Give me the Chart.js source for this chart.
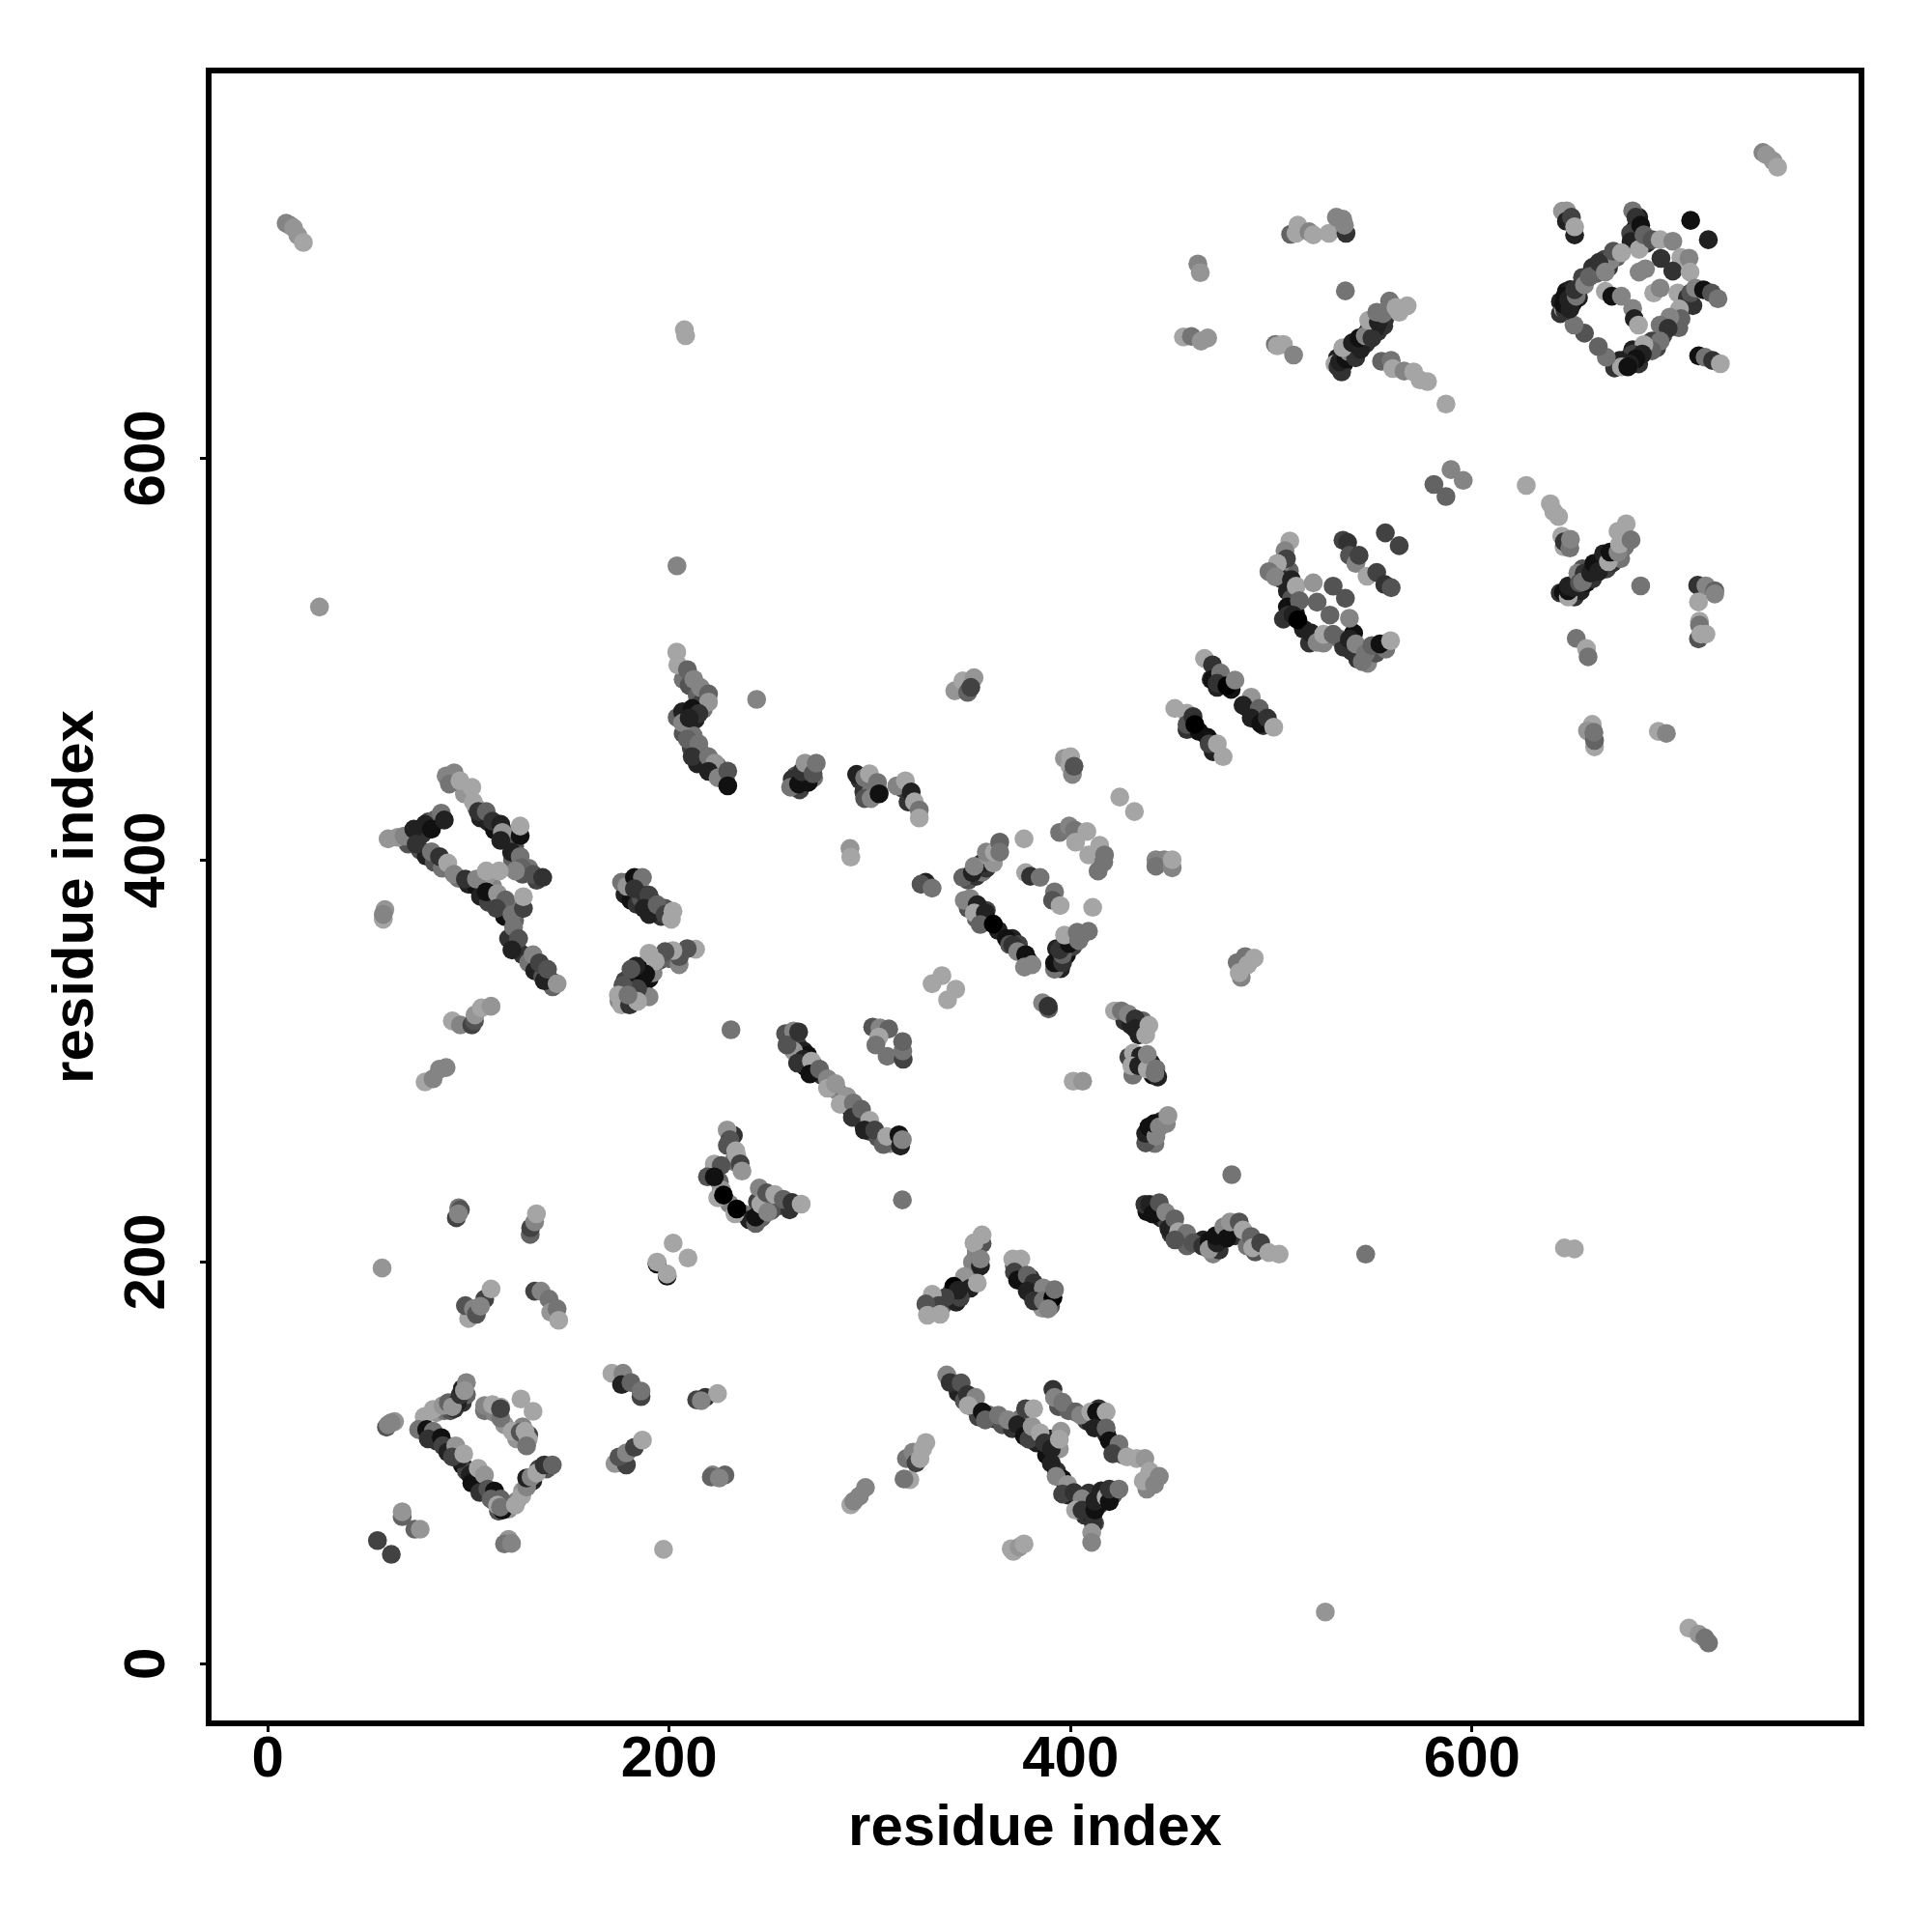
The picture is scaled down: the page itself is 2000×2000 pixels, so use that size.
<!DOCTYPE html>
<html>
<head>
<meta charset="utf-8">
<title>residue contact map</title>
<script src="https://cdn.jsdelivr.net/npm/chart.js@4/dist/chart.umd.min.js"></script>
<style>
  html, body { margin: 0; padding: 0; background: #fff; }
  canvas { display: block; }
</style>
</head>
<body>
<canvas id="chart" width="2000" height="2000"></canvas>
<script>
// eixos
const xTicks = [0, 200, 400, 600];
const yTicks = [0, 200, 400, 600];
const xTitle = 'residue index';
const yTitle = 'residue index';

// contatos que ficam por baixo nas cadeias densas: [residuo x, residuo y, nivel 0-10]
const contactsUnderLeft = [
  [77,118,5],[81,114,2],[84,111,3],[88,109,1],[91,106,3],[94,103,5],[97,99,1],[99,96,4],[103,92,2],[106,90,3],[108,87,2],[111,84,1],[113,81,2],[115,76,5],[118,79,3],
  [84,125,9],[88,126,7],[91,126,5],[93,127,3],[95,132,4],[97,130,3],[99,134,6],[120,77,9],[124,81,8],[127,86,9],[130,90,6],[132,91,2],[135,97,4],[139,97,5],
  [108,126,7],[113,125,8],[118,119,9],[124,112,9],[127,118,8],[130,114,4],
  [98,433,9],[104,426,8],[106,421,2],[110,419,2],[113,415,1],[118,414,6],[120,410,3],[123,407,5],[122,400,6],[127,393,5],[130,396,7],[134,390,4],
  [70,408,5],[72,412,2],[75,411,1],[77,413,3],[80,419,4],[83,420,6],[76,405,5],[79,402,2],[83,399,5],[87,396,7],[95,391,7],[100,388,2],[104,387,1],[106,382,2],[110,379,4],[112,387,8],
  [118,372,1],[120,378,8],[123,370,6],[120,361,3],[124,357,6],[127,353,3],[130,349,7],[133,345,2],[137,342,5],[141,340,3],[142,337,6],[109,392,9],
  [178,383,2],[181,380,1],[184,378,3],[186,381,5],[188,383,3],[191,380,4],[193,375,1],[196,372,3],[198,376,5],[179,389,5],[184,388,2],[190,373,2],
  [178,340,4],[181,337,2],[179,334,6],[182,331,5],[175,330,8],[187,337,0],[185,340,1],[190,341,1],[192,344,8],[195,350,5],[188,348,3],[200,351,6],[205,348,8],[190,332,8],[183,345,2],[186,345,0],
  [207,490,7],[210,487,5],[214,482,6],[216,478,4],[204,471,6],[208,466,3],[213,470,2],[217,475,7],[207,463,5],[211,456,4],[216,453,6],[214,448,2],[221,445,3],[226,441,1],[224,447,6],[228,440,3],[212,462,7],
  [263,442,5],[266,441,2],[268,443,3],[272,441,7],[265,435,4],[295,440,3],[299,437,4],[297,434,3],[301,436,6],[300,433,7],[316,436,4],[319,429,3]
];
const contactsUnderMid = [
  [349,390,5],[353,392,3],[356,394,7],[358,396,3],[360,400,3],[363,405,8],[349,376,5],[353,371,6],[356,370,3],[358,375,4],[364,365,2],[371,361,2],[374,358,4],[379,350,3],
  [393,350,5],[395,346,2],[398,353,1],[401,357,4],[400,361,3],[405,362,5],[393,356,2],[440,263,3],[443,266,2],[445,270,3],[438,261,8],[442,259,7],
  [261,311,3],[264,308,4],[267,305,2],[269,303,1],[272,298,2],[276,293,3],[280,289,5],[284,285,8],[287,280,6],[290,277,3],[294,272,1],[297,268,2],[300,265,3],[304,262,5],[310,259,8],[312,262,2],[260,308,4],[262,305,9],[268,297,1],
  [222,245,3],[229,258,5],[232,250,7],[225,240,6],[226,236,9],[230,229,8],[237,224,7],[240,221,2],[246,222,6],[244,230,4],[247,232,2],[251,230,5],[255,228,4],[260,226,3],[232,263,3],
  [330,176,5],[333,181,3],[336,178,6],[340,184,4],[343,180,2],[346,188,4],[352,195,6],[353,203,3],[353,206,8],[348,190,3],
  [372,198,5],[375,193,4],[377,190,2],[380,192,3],[383,186,1],[385,184,2],[388,182,6],[390,178,5],[386,177,9],
  [341,140,5],[344,135,2],[347,131,5],[351,128,2],[354,123,4],[359,124,6],[362,122,3],[366,119,5],[371,117,3],[375,118,6],[375,122,7],[380,113,1],[383,110,2],[388,104,1],[390,112,2],
  [393,96,3],[396,92,1],[399,84,2],[404,79,1],[407,74,3],[408,80,2],[411,73,1],[414,79,3],[416,81,1],[421,84,5],[414,84,4],[409,85,3],[412,70,5],
  [394,128,5],[399,126,6],[408,121,4],[410,120,2],[415,120,3],[418,114,2],[422,107,4],[426,104,5],[414,127,3],[438,87,8],[440,92,5],
  [438,225,1],[442,227,3],[445,222,2],[448,220,4],[450,214,3],[455,212,5],[458,208,6],[466,211,2],[468,207,2],[471,204,8],[474,210,1],[475,213,1],[474,206,3],[480,215,1],[482,213,3],[488,208,7],[492,205,5],
  [427,320,3],[430,318,2],[434,313,2],[436,320,6],[429,302,4],[433,301,1],[437,299,3],[441,293,1],[440,299,2],[431,293,7]
];
const contactsUnderRight = [
  [470,490,3],[473,486,2],[476,490,2],[480,485,1],[488,476,1],[491,473,2],[493,470,1],[496,467,3],[458,465,3],[464,464,1],[471,454,2],
  [509,544,6],[505,548,8],[505,540,3],[508,534,2],[510,530,5],[508,526,1],[512,523,1],[506,520,3],[516,515,2],[519,508,3],[524,510,5],[526,508,8],[534,510,7],[536,506,3],[540,504,3],[543,500,3],[548,498,8],[552,503,5],[557,505,7],[541,513,1],
  [533,650,2],[536,647,1],[539,650,1],[541,653,2],[543,655,1],[545,658,2],[547,657,3],[548,663,2],[551,664,1],[553,663,3],[556,666,3],[549,668,3],[552,665,2],[535,643,3],
  [644,678,2],[647,683,1],[649,684,2],[653,680,2],[650,677,1],[655,690,4],[660,695,3],[662,692,6],[666,699,4],[668,695,3],[672,700,6],[644,672,3],
  [671,645,3],[675,648,1],[678,650,2],[680,654,2],[683,647,3],[686,655,3],[692,655,4],[695,661,4],[699,667,7],[703,665,6],[683,720,2],[681,714,1],[687,707,3],[706,680,2],[710,676,3],
  [649,532,2],[651,531,3],[654,534,2],[657,538,1],[660,540,3],[662,545,1],[664,548,2],[667,545,4],[670,548,3],[674,550,7],[676,556,7],[655,545,5]
];

// contatos: [residuo x, residuo y, nivel 0-10]
const contactsFarCorners = [
  [9.2,717,8],[11,716,8],[12.9,714.7,9],[15,711,9],[17.8,707.4,10],[25.8,526,9],[203.9,546.5,8],[207.6,664,10],[208.2,661,10],
  [744.9,752.2,8],[746.7,751,9],[750,748,9],[752.2,744.9,10],[708,17.8,10],[713,14.7,9],[716,12.9,7],[717.8,10.4,7],[526.9,25.8,9],
  [547,203.9,7],[646,207,10],[651,206.5,10],[627,586.5,10],[587,627,10],[581,587,6],[587,581,6],[589.5,594.4,8],[595.6,589,8]
];
const contactsLowerLeft = [
  [57,197,9],[54.7,61.4,4],[61.6,54.5,4],[67,73.3,6],[67,75.7,9],[73.3,67,6],[76,67,9],
  [59.2,117.8,5],[60,119,8],[63.2,120.6,9],[61.5,120,8],[78,123,10],[82.4,126.6,10],[87.3,128.6,9],[90,130,6],[94.5,130,2],[92,128,9],[96,134,3],[97,137,2],[99,140,8],[98,136,9],
  [75.2,116.6,7],[79.2,116.6,1],[82.5,115.8,7],[80,112,3],[86.5,112.6,1],[87.3,108.6,4],[89.7,105.4,2],[93.7,108.5,9],[95,102,2],[92,103,4],[97.7,104.5,10],
  [100.9,94,2],[101.7,90,1],[104.9,97.3,10],[108,94,9],[105.7,85.3,3],[109.7,87,5],[113,86,1],[111.3,82,6],[116.1,82,6],[114.5,79,10],[117,76.5,1],[116,78,7],
  [123.4,79,10],[126.6,83.7,10],[129,88,8],[129,92.5,2],[131.2,93,8],[134,95,10],[137.8,99,3],[141.8,99,6],
  [108.1,128.6,8],[112,129,10],[116.1,127.8,10],[116.1,122.3,7],[116,127,4],[126.2,131.8,10],[132.2,125.7,10],[121.8,115.8,10],[125.8,115.3,5],[128.2,115.8,10],[129.8,111.8,10],[129,108.5,7],
  [120,62,9],[118,59.7,7],[121.5,60,8],
  [100.1,171.9,10],[98.5,178.3,5],[102.5,176.7,8],[104,174,5],[108.1,181.5,4],[106,178,8],[111.3,186.6,10],
  [133,185.5,4],[136.2,185.5,8],[140.2,181.5,7],[141,175,9],[144.2,176.7,7],[145,171,10],
  [95.2,227,7],[96,226,5],[94,222,4],[95,224,8],[130.8,213.7,6],[131,217,4],[133,220,8],[133.9,224,10],
  [171.5,144.6,10],[177,144.6,8],[176.3,139,2],[181,140,6],[186,133,4],[186,135.8,7],
  [173,99.7,9],[178.7,99,4],[175,103,5],[178.7,105,8],[182.7,107.8,4],[186.7,111.4,10],
  [194,199,1],[194,200,10],[199,193,1],[199,194,10],[202,209.4,10],[209.4,202,10],[197.2,57,10],
  [213.7,131.4,4],[218,132.6,3],[224.1,134.5,10],[216,131,8],[221.7,94,8],[221,93,6],[227.8,94,6],[225,92.5,8]
];
const contactsUpperLeft = [
  [88.9,441.9,8],[92.9,443.5,8],[90.5,437.9,7],[95.8,439.5,10],[101.7,436.3,10],[102.5,429,10],[104.9,424.2,3],[108.9,424.2,6],[112,419.4,3],[116.1,417.8,2],[116.9,413.8,9],[116.1,409.8,2],[125.8,412.2,1],[125.8,417,10],
  [121.5,404,2],[125.8,401.8,7],[126.6,396.2,6],[132.2,393,5],[123.4,394.6,8],[137,391.4,3],
  [60,410.6,9],[64.8,411.4,9],[68,412,8],[72.8,415.4,2],[74,408,3],[78.4,417.8,2],[81.6,415.4,1],[86.5,423.4,7],[88,420,2],[81.6,404.2,7],[85.6,401.8,3],[89.7,398.6,10],[92.9,393,8],[98.5,390.6,3],[104,390.6,8],[108.9,394.6,10],[115.3,394.6,10],
  [108.9,384.2,1],[114.5,383.4,9],[118.5,380.2,6],[114,376,4],[121.7,373,7],[127.4,376,4],[127.4,381.8,10],[122.5,366.6,7],[125,361,5],[121.7,355.3,2],[132.2,352.9,8],[135.4,348.9,4],[137.8,340,2],[139.4,345.7,5],[144.2,338.5,9],
  [58.4,375.4,9],[57.6,370.6,10],[57.6,373,8],
  [92,320,10],[96,318,8],[101.7,318,4],[103,320,5],[103.3,323,9],[106.5,326.5,10],[111.3,327.3,9],
  [78.4,289.6,10],[82.4,291.2,8],[85.6,296,8],[88.9,296.8,8],
  [176.3,389,7],[179,387,9],[182.7,391.4,1],[186.7,391.4,7],[182.7,385.8,3],[189.9,382.6,4],[187.5,376,2],[194,377.8,6],[198,373,4],[201.9,374.6,10],[201.1,370.6,10],
  [213.2,355.7,10],[209,356,5],[205.1,352,5],[201.9,355,10],[198,354.5,5],[193.1,349.7,10],[190,353.7,10],[188.3,343.3,1],[183.5,347.3,2],[181,345.7,5],[184.3,336,4],[177,337.7,5],[174.7,332.9,10],[176.3,328,10],[180.3,328,3],[184.3,329.7,10],[179.5,332.9,7],
  [203.8,503.6,10],[204.3,497.2,10],[209.1,494.8,6],[212.3,490,8],[215.6,486,8],[219.6,482.7,6],[219.6,478.7,9],[206.7,473.9,2],[211.5,475.5,1],[214.8,473,3],[206.7,468.3,8],[210,470.7,2],[209.1,460.3,6],[214.8,457.9,7],[211.5,451.5,3],[219.6,451.5,7],[222.8,448.3,9],[219.6,444.2,2],[224.4,441,8],[229.2,444.3,5],[229.2,437,1],
  [243.6,480,8],[342.3,484.3,9],[346.3,489.2,10],[348.7,483.5,6],[351.9,490.8,9],[350.3,486,4],
  [261.3,440.3,3],[260.5,436.3,7],[264.5,437.9,1],[269.3,438.7,1],[266,444,3],[267.7,448.3,9],[271.7,443,5],[273.3,448.3,7],
  [293.4,442.7,2],[297.4,441,7],[299.8,443,10],[297.4,430.7,5],[300.6,430.7,8],[304.6,433.9,8],[303.8,438.7,7],[304.6,433,1],
  [313.4,437,8],[317.7,439.5,10],[320.6,433.9,2],[322.2,429,10],[324.6,425,7],[324.6,421,10],
  [290.1,405.8,9],[290.5,401.5,10]
];
const contactsCentre = [
  [258,313.7,5],[262,315,8],[258.7,308,5],[264.5,314.5,3],[266.9,300.9,2],[264,299,3],[270.9,300,10],[270.1,293.6,1],[274.9,296,6],[278.9,291.2,8],[278.9,286.5,10],[282.9,288.8,9],
  [288.5,282.4,9],[285.2,278.5,10],[291.8,279.2,7],[291.3,272,3],[295.8,276,6],[299.9,270.5,10],[297.3,265.7,2],[302.4,265.7,4],[306.7,258.5,6],[308.4,262.5,10],[314.5,263.3,1],[315.3,257.7,2],[316.2,260.9,8],
  [301.4,316.9,5],[305,316.5,8],[309.4,316,6],[304.5,312,10],[303,308,7],[308.6,302.4,7],[316.6,300.9,4],[316.4,305,7],[316.3,309.7,6],[230.8,315.6,7],[316.2,230.9,7],
  [228.9,265.7,9],[230.2,260.9,5],[233.2,255.3,10],[233.7,252.8,10],[235.4,248.9,4],[236.3,245.3,9],[222.5,248.8,10],[225.9,248,5],[219.1,242.4,5],[222.5,242.4,1],[224.2,232,10],[227.1,233.3,0],[232.8,224,10],[233.7,226.4,0],[243.1,219.2,6],[243.1,222.4,1],
  [244.9,236.8,8],[245.7,228.8,10],[248.6,234.4,5],[250.9,225.6,5],[249.1,224.8,8],[252.6,233.6,10],[256.9,231.2,6],[261.2,229.6,3],[265.8,228.8,10],
  [318.2,102.2,7],[319.9,91.7,10],[317,92,7],[321.5,105.4,8],[323,100,4],[325,102.2,10],[326.3,107,10],[327.9,110.2,10],[290.5,79.2,10],[292,81,8],[294.8,83.5,8],[297.8,87.8,8]
];
const contactsDiamondMid = [
  [335.9,342.5,10],[331,338.5,10],[342.8,335.8,10],[338.7,330.5,10],[386,329,8],[389,326,6],[388.8,327.3,3],
  [327.8,389,2],[325.5,388,5],[331,386.1,7],
  [346.3,391.4,6],[351.1,393.8,2],[355.9,398.6,2],[352,397,8],[359,402,9],[361.5,398.6,9],[358,404,8],[362,404,10],[364.7,409,6],[364.7,404,7],
  [376.8,410.6,10],[347,380,8],[350,381,8],[353.5,377.8,2],[352,373.7,10],[357.5,373.8,2],[355,368,6],[361.5,368.2,0],[368,361,1],[369.6,358,5],[371.2,357.7,3],[373.6,354.5,8],[377.6,353,1],[380.8,348,8],[377,346.8,8],
  [396.9,450.7,9],[400,451.5,10],[399.7,447,10],[400.9,442.7,8],[401.7,446.7,5],
  [424.5,431.4,10],[431.8,424.2,10],
  [394.5,413.8,7],[399.3,417,8],[402,415,7],[408.1,414.3,10],[402.5,409,10],[409,402.6,10],[414.5,407.4,10],[416.5,399,7],[413.7,394.6,7],[416.9,402.6,7],
  [442.5,400.2,8],[446.6,400.2,8],[442.5,397,7],[450.6,396.2,8],[450.6,400.2,10],
  [377.6,393.8,10],[380,392,3],[384.8,391.4,7],[392,384.2,7],[391,380,5],[394.8,377.4,10],[411,376.5,10],
  [392,345.7,7],[392,348.9,1],[396,349,3],[396,353,6],[394.5,355.3,3],[399.3,358.5,1],[397,362.7,10],[404,360,7],[403.3,364.1,7],[408.9,364.6,7],
  [485,341.7,8],[483,349,7],[487,352,7],[484,344,10],[488.3,348,10],[491.5,351.3,10],
  [401.3,290,10],[406,290,9],
  [421.9,325,10],[425.3,325,7],[428.8,323.4,8],[432.2,321,3],[432.2,316.2,2],[437.4,313,10],[439,317.8,10],
  [431.3,304,10],[434.8,302.5,2],[430.5,297.7,10],[433.9,297.7,2],[438.2,296,10],[438.2,303.3,8],[442.5,296.1,7],[443.4,292.1,2],[442,294,7],
  [437.4,259.3,5],[437.4,264,2],[439,267.3,1],[442.5,262.5,8],[441.7,268.9,1],[444.2,267.3,8],[447.7,268.9,8],[448.5,272.9,9]
];
const contactsLowerMid = [
  [355.9,209.2,5],[351.9,209.5,10],[355.9,213.5,10],[351.1,199.9,8],[355.1,198,2],[355.1,201.5,8],[347.1,192.7,9],[350,187,2],[353.5,189.5,10],[341.8,187.9,0],[345,182.3,4],[344,186,2],[337.5,182.3,4],[331.1,183.9,10],[334.3,178.3,4],[327.9,179.1,5],[328.7,173.5,10],[335,174,10],
  [371.2,201.5,10],[375.2,201.5,10],[372,195,4],[373.6,191,1],[378.4,193.5,6],[381.6,189.5,3],[378.4,185.5,2],[386.4,187.1,8],[381.6,180.7,3],[386.4,180.7,7],[391.2,182.3,0],[388.8,176.7,8],[392,186.3,7],
  [338.3,143.8,8],[340,140,3],[345.5,139.8,5],[348.7,134,3],[352.7,132.6,8],[349,128.6,10],[356,125.4,1],[357.5,121.4,6],[364,123.8,7],[368.8,121.4,8],[373.6,119,2],[377,113.4,1],[379.2,111.8,4],[380.8,118.2,9],[377.6,127,4],[381.6,127,10],[384.8,115,10],
  [387,110,3],[394.4,107,9],[390.4,107,2],[395.2,115.8,9],[394.4,111.8,10],[390.4,99.8,2],[392.8,93.3,8],[398.5,89.3,9],[396,84.5,4],[401.7,85.3,3],[405.7,82.1,8],[402.5,76.5,10],[405.7,76.5,3],[411.3,70.1,3],[410.5,65.3,9],[410.5,60.5,8],
  [412.1,76.5,1],[412.1,81,2],[415.3,86.1,2],[417.7,83,10],[419.3,80.8,1],[419.3,87,3],[424.1,87,7],
  [391.2,136.6,3],[392,132.6,8],[396,130.2,7],[402.5,125.4,6],[405,123.8,8],[410,125.4,10],[412.9,125.4,1],[417.7,125.4,10],[412,117.4,2],[417.7,117.4,6],[419.3,111,1],[424.1,109.4,7],[421,104.6,4],[428.1,103,10],[432.9,102.2,10],[437,102.2,9],[436.2,91,10],[439.4,95.8,10],[441.8,89.3,8],[444.2,93.3,8],
  [370.4,57.3,10],[371.5,56,10],[374.4,58.1,9],[376.8,59.7,10],
  [437,228.7,3],[439.4,228.7,2],[441,223.9,1],[444.2,229.5,5],[447.4,224.7,8],[449,216.7,2],[451.9,221.5,6],[453.8,215.1,10],[457.8,214.3,7],[452,211,5],[461,209.5,5],
  [465.8,207.9,3],[469,210.3,1],[469,206.3,9],[472.9,209.5,2],[472.2,213,1],[476.3,217.5,8],[477.9,211.9,1],[479.5,219.9,9],[484,219.9,5],[485.9,215.9,10],[489.9,212.7,6],[490.7,207.1,10],[494.7,209.5,4],[498.7,204.7,10],[503.9,203.9,10],[480.3,243.5,7]
];
const contactsRightMid = [
  [451.9,475.5,10],[457.9,473.1,10],[458,467.5,5],[461,471.5,3],[461.9,467.5,0],[468.3,461.1,1],[469,457.9,4],[473.1,457.9,10],[476,451.5,10],
  [466.7,500.4,10],[470.7,497.2,3],[470.7,490,1],[474.7,493.2,7],[473,488,3],[477.9,486.8,0],[481.9,489.6,8],
  [490,481.1,9],[485.9,477.1,2],[494,475.5,6],[490,470.7,2],[494.7,468,1],[498,470.7,3],[501.2,466.2,10],
  [509.2,558.9,10],[506.8,554,8],[507.5,550,4],[503,547.7,10],[498.8,543.6,7],[502,541,8],[510,539.6,2],[512.4,536.4,10],[520.9,538,9],[514,529.2,6],[522.8,528.4,6],
  [508.4,522,3],[510.8,522,2],[513.2,519.6,0],[530.8,536.4,5],[536.9,530.3,5],[529.2,522,6],[538.9,520.4,8],[519.6,513.2,2],[522.8,508.4,8],[526,512.4,10],[530.8,512.4,6],[538.9,510,2],[542.1,507.6,8],[545.3,498.8,7],[546.9,502.8,7],[550.1,506.8,6],[554.1,507.6,1],[559.4,509.2,10],
  [535.7,559.2,4],[538,558.1,3],[538.9,551.7,5],[542.1,547.7,8],[543.7,551.7,4],[547.7,541.3,10],[552.5,543.2,4],[556.5,537.2,3],[559.7,535.6,5],[556.8,562.9,4],[563.7,556.5,4],
  [463.4,696.7,8],[464.6,692.4,9],[456.2,660.4,10],[460.2,660.7,7],[465,658.3,9],[468.3,659.9,9],
  [502,656.7,7],[503,656,10],[506,656.7,10],[511.1,651.4,8],
  [509.6,711.5,6],[513.2,716,10],[512.3,712,10],[518.8,712.8,8],[520.9,711.2,10],[528.7,712,10],[537.2,712,3],[532.4,720,8],[535.6,719,8],[536.4,716,8],[536.9,683.3,7],
  [531.7,647,10],[533.2,645.5,3],[534,648,2],[537.2,649.5,1],[538.7,653,8],[542,650,3],[535.6,655,10],[540.4,657.5,2],[544.5,654.3,2],[543.7,659.9,1],[546.8,661,8],[550.1,659.9,3],[548.5,668.7,10],[556.5,669.5,3],[553.3,667.9,2],[552.5,672.7,7],[555.7,672,7],[558.9,678.3,7],[562.1,675.1,10],[563.7,672.7,10],[567.7,675.9,10],
  [554.9,648.3,6],[559.7,648.7,7],[560.5,644.7,10],[566.1,643.4,8],[570.9,643,10],[574.1,639,10],[577.8,638.2,10]
];
const contactsUpperRight = [
  [645,723,9],[647.1,723.2,9],[647,718,2],[649.5,720,4],[651.1,711.2,2],[651.1,715.2,10],
  [680,723.2,7],[681.6,720,3],[679,712,4],[684,716,1],[679.2,707.9,2],[683.2,704,10],[685.6,711.2,6],
  [708.9,718.4,1],[717.7,708.8,2],[689.6,708.8,5],[693.7,708.8,10],[700,708,8],[704,699.9,10],[708.1,699.6,8],[694.1,699.5,3],[700,693.2,3],[708.6,692.7,10],
  [683.2,692.7,8],[686.4,694.3,8],[690.5,682.3,10],[693.7,684.7,8],
  [666.4,683.1,10],[669.6,680.7,1],[674.4,680.7,8],[680,674.6,8],[680.8,669.5,2],[682.9,666.3,10],
  [702.5,682.3,10],[707.3,679.9,3],[708.9,682.3,5],[711.3,684.7,8],[715.3,683.9,1],[719.3,682.3,5],[722.5,679.4,7],[703.3,674.3,10],[704.1,669.5,6],
  [698.5,670.3,8],[693.7,666.3,7],[697.7,664.7,3],[689.6,658.3,4],[693.7,658.3,7],[689.6,653.5,6],[685.6,656.6,10],[680,651.9,4],[684.8,651.9,2],[681.6,649.5,1],[678.4,647,2],[673.6,648.7,2],[674.4,645.5,10],[677.6,645.5,1],
  [666.9,650.3,7],[662.9,655.6,6],[656,662.3,5],[650.8,666.3,7],
  [645.5,674.3,10],[646.3,673.5,3],[645.5,676.7,1],[646.3,680.7,1],[648.7,674.3,2],[648,679.1,2],[651.9,680.7,7],[651.1,683.9,3],[656,686.3,8],[658.4,690.3,6],[668.8,698.3,8],[663.2,697.5,3],[666.4,692.7,8],[670.4,703.1,5],[674.4,702.3,10],
  [712.9,651,1],[716.1,650.3,7],[719.8,648.7,3],[723.7,647.1,10],
  [639,577.4,10],[640.7,573.4,10],[643.1,571,10],[644.7,561.3,10],[645.8,556,10],[646,558.5,3],[648.7,555.4,7],[649,559.7,8],
  [643.9,533,3],[645.5,533.3,1],[647.9,531,10],[647.9,534.1,1],[648,536.5,2],[650.3,535.7,2],[652.7,542.9,8],[653.5,538,5],[655.9,542.9,3],[655,538.5,7],[659.1,542.9,2],[660.7,547.7,1],[663.1,543.7,2],[665.5,552.5,2],[667.9,548.5,10],[668.7,553.3,1],[672.7,553.3,8],[673.5,557.3,10],[672.7,563.7,10],[676.8,567.4,10],[679.2,559.4,7],[684,536.5,7],
  [712.4,536.8,3],[716.5,536.5,8],[720.9,534.1,6],[720.9,532.5,8],[712.8,528.5,10],[713.3,518.9,10],[713.3,517,7],[712.8,510.1,5],[714,512.5,10],[716.5,512.5,10],
  [651.9,510.4,7],[657,505.3,10],[657.8,501.2,7],
  [659.9,467.6,10],[657.5,464.4,9],[661,456.4,10],[661,459.6,6],[660.7,463.6,7],[692.8,464.1,10],[696.8,463.1,8]
];

const allContacts = [
  ...contactsUnderLeft, ...contactsUnderMid, ...contactsUnderRight,
  ...contactsFarCorners, ...contactsLowerLeft, ...contactsUpperLeft, ...contactsCentre,
  ...contactsDiamondMid, ...contactsLowerMid, ...contactsRightMid, ...contactsUpperRight
];

// nivel 0-10 vira tom de cinza
function grayOf(level) {
  const g = level * 16.5;
  return `rgb(${g},${g},${g})`;
}

// moldura em volta da area do grafico
const framePlugin = {
  id: 'frame',
  afterDraw(chart) {
    const { ctx, chartArea: a } = chart;
    ctx.save();
    ctx.strokeStyle = '#000';
    ctx.lineWidth = 6;
    ctx.strokeRect(a.left, a.top, a.right - a.left, a.bottom - a.top);
    ctx.restore();
  }
};

const labelFont = { family: '"Liberation Sans"', size: 60, weight: 'bold' };

new Chart(document.getElementById('chart').getContext('2d'), {
  type: 'scatter',
  data: {
    datasets: [{
      data: allContacts.map(c => ({ x: c[0], y: c[1] })),
      pointRadius: 9.8,
      pointBorderWidth: 0,
      pointBackgroundColor: allContacts.map(c => grayOf(c[2]))
    }]
  },
  options: {
    responsive: false,
    animation: false,
    layout: { padding: { top: 73, right: 73, left: 0, bottom: 0 } },
    plugins: { legend: { display: false }, tooltip: { enabled: false } },
    scales: {
      x: {
        min: -29.4,
        max: 794,
        afterFit(scale) { scale.height = 216; },
        afterBuildTicks(scale) { scale.ticks = xTicks.map(v => ({ value: v })); },
        border: { display: false },
        grid: { drawOnChartArea: false, color: '#000', lineWidth: 3, tickLength: 9 },
        ticks: { color: '#000', font: labelFont, padding: -7, maxRotation: 0, minRotation: 0 },
        title: { display: true, text: xTitle, color: '#000', font: labelFont, padding: { top: 0, bottom: 71 } }
      },
      y: {
        min: -29.6,
        max: 793,
        afterFit(scale) { scale.width = 216; },
        afterBuildTicks(scale) { scale.ticks = yTicks.map(v => ({ value: v })); },
        border: { display: false },
        grid: { drawOnChartArea: false, color: '#000', lineWidth: 3, tickLength: 9 },
        ticks: { color: '#000', font: labelFont, padding: 3, minRotation: 90, maxRotation: 90, crossAlign: 'center' },
        title: { display: true, text: yTitle, color: '#000', font: labelFont, padding: { top: 43, bottom: 0 } }
      }
    }
  },
  plugins: [framePlugin]
});
</script>
</body>
</html>
